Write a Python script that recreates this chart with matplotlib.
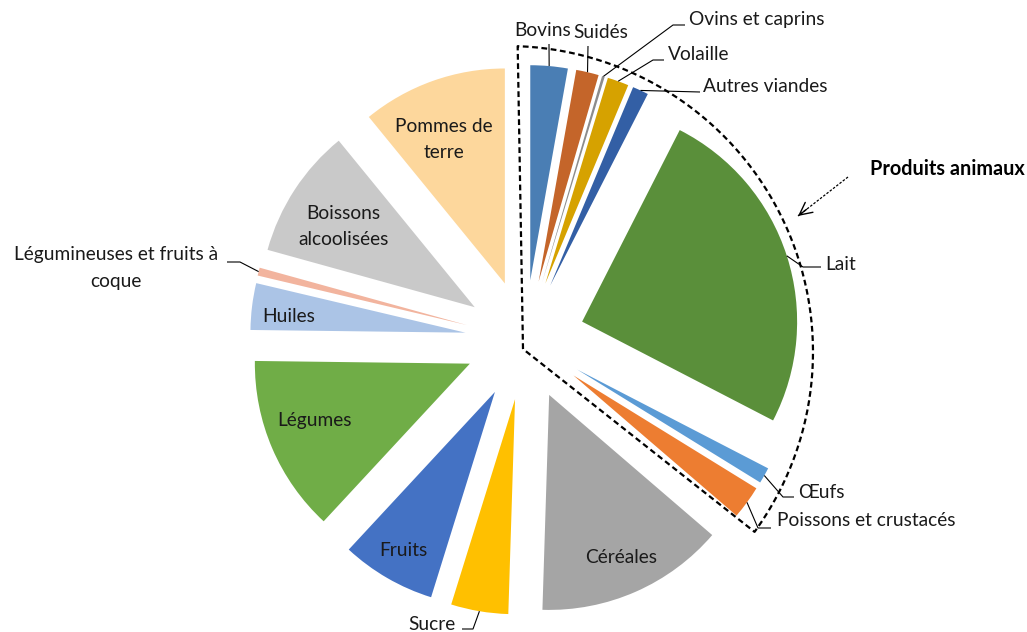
import matplotlib
matplotlib.use("Agg")
import matplotlib.pyplot as plt
import numpy as np

plt.rcParams['font.family'] = ['Lato', 'DejaVu Sans']

# ---------------- data ----------------
categories = ["Bovins", "Suidés", "Ovins et caprins", "Volaille", "Autres viandes",
              "Lait", "Œufs", "Poissons et crustacés", "Céréales", "Sucre", "Fruits",
              "Légumes", "Huiles", "Légumineuses et fruits à\ncoque",
              "Boissons\nalcoolisées", "Pommes de\nterre"]
values = [2.8, 1.7, 0.2, 1.6, 1.2, 25.1, 1.2, 2.5, 14.2, 4.3, 7.1, 13.3, 3.5, 0.6, 9.8, 10.9]
colors = ["#4A7EB4", "#C4652A", "#8C8C8C", "#D6A200", "#335FA5", "#5A8F3A",
          "#5B9BD5", "#ED7D31", "#A5A5A5", "#FFC000", "#4472C4", "#70AD47",
          "#ABC4E6", "#F2B49E", "#C9C9C9", "#FDD79C"]
group_title = "Produits animaux"

# ---------------- layout ----------------
W, H = 1027, 632
R_PX = 215.0
CX, CY = 525.0, 340.0
EXPLODE = 60.0 / R_PX
LS = 1.65


def P(x, y):
    """pixel (from top-left) -> data coords (pie radius = 1)"""
    return ((x - CX) / R_PX, (CY - y) / R_PX)


fig = plt.figure(figsize=(W / 100, H / 100), dpi=100)
ax = fig.add_axes([0, 0, 1, 1])

wedges, _ = ax.pie(values, colors=colors, startangle=90, counterclock=False,
                   explode=[EXPLODE] * len(values), radius=1.0,
                   wedgeprops=dict(linewidth=0))
ax.set_aspect('auto')
ax.set_xlim(-CX / R_PX, (W - CX) / R_PX)
ax.set_ylim(-(H - CY) / R_PX, CY / R_PX)
ax.axis('off')

FS = 13.8


def wedge_point(w, d, dang=0.0):
    m = np.deg2rad((w.theta1 + w.theta2) / 2 + dang)
    cx, cy = w.center
    return cx + d * w.r * np.cos(m), cy + d * w.r * np.sin(m)


# inside labels: (distance from wedge tip, angular offset in degrees)
inside = {"Céréales": (0.825, 0.0), "Fruits": (0.853, 0.0), "Légumes": (0.771, -3.3),
          "Huiles": (0.827, 1.8), "Boissons\nalcoolisées": (0.716, 1.5),
          "Pommes de\nterre": (0.727, 3.4)}
for w, lab in zip(wedges, categories):
    if lab in inside:
        dist, dang = inside[lab]
        x, y = wedge_point(w, dist, dang)
        ax.text(x, y, lab, ha='center', va='center', fontsize=FS,
                multialignment='center', color='#1a1a1a', linespacing=LS)

# outside labels: (text pixel pos, ha, elbow pixel points)
outside = {
    "Bovins": ((543, 31), 'center', [(549, 44)]),
    "Suidés": ((601, 33), 'center', [(588, 46)]),
    "Ovins et caprins": ((689, 20), 'left', [(673, 25), (685, 25)]),
    "Volaille": ((668, 54), 'left', [(653, 60), (664, 60)]),
    "Autres viandes": ((703, 86), 'left', [(700, 92)]),
    "Lait": ((825, 264), 'left', [(803, 267), (821, 267)]),
    "Œufs": ((798, 492), 'left', [(783, 497), (794, 497)]),
    "Poissons et crustacés": ((777, 521), 'left', [(758, 528), (771, 528)]),
    "Sucre": ((432, 625), 'center', [(473, 629), (462, 629)]),
    "Légumineuses et fruits à\ncoque": ((116, 268), 'center', [(240, 262), (227, 262)]),
}
for w, lab in zip(wedges, categories):
    if lab in outside:
        (tx, ty), ha, elbows = outside[lab]
        sx, sy = wedge_point(w, 1.0)
        pts = [(sx, sy)] + [P(*e) for e in elbows]
        ax.plot([p[0] for p in pts], [p[1] for p in pts], color='black', lw=0.8,
                solid_capstyle='butt')
        ax.text(*P(tx, ty), lab, ha=ha, va='center', fontsize=FS,
                multialignment='center', color='#1a1a1a', linespacing=LS)

# dashed boundary around animal products
arc_c = P(507, 352)
arc_r = 306 / R_PX
ang = np.deg2rad(np.linspace(88, -36, 200))
arc_x = arc_c[0] + arc_r * np.cos(ang)
arc_y = arc_c[1] + arc_r * np.sin(ang)
inner = P(523, 349)
bx = np.concatenate([[inner[0]], arc_x, [inner[0]]])
by = np.concatenate([[inner[1]], arc_y, [inner[1]]])
ax.plot(bx, by, color='black', lw=1.6, linestyle=(0, (2.6, 1.6)))

# title + arrow
ax.text(*P(870, 169), group_title, ha='left', va='center', fontsize=14.3,
        fontweight='bold', color='black')
a0 = np.array(P(848, 177))
a1 = np.array(P(798, 216))
ax.plot([a0[0], a1[0]], [a0[1], a1[1]], color='black', lw=0.9, linestyle=(0, (2, 1.3)))
d = (a1 - a0) / np.linalg.norm(a1 - a0)
ax.annotate('', xy=a1, xytext=a1 - d * 0.05,
            arrowprops=dict(arrowstyle='->,head_length=0.9,head_width=0.45', lw=1.0,
                            color='black', shrinkA=0, shrinkB=0))

fig.savefig("out.png", dpi=100)
